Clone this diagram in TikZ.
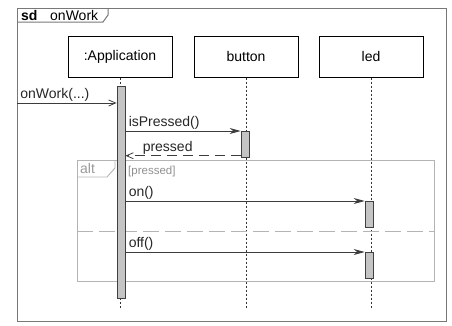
\documentclass[tikz,border=0pt]{standalone}
\usepackage{fontspec}
\setmainfont{Liberation Sans}
\usetikzlibrary{arrows.meta,positioning,calc}
\definecolor{framegray}{HTML}{787878}
\definecolor{altgray}{HTML}{B4B4B4}
\definecolor{barfill}{HTML}{C4C4C4}
\definecolor{msggray}{HTML}{3C3C3C}
\tikzset{
  sdframe/.style={draw=framegray,line width=1pt,rectangle,anchor=north west,inner sep=0pt},
  altframe/.style={draw=altgray,line width=0.9pt,rectangle,anchor=north west,inner sep=0pt},
  objbox/.style={draw,rectangle,line width=1pt,minimum width=104pt,minimum height=41pt,inner sep=0pt},
  actbar/.style={draw=black!75,fill=barfill,line width=0.7pt,minimum width=8pt,inner sep=0pt,anchor=north},
  lifeline/.style={black!80,line width=0.7pt,dash pattern=on 2pt off 2pt},
  syncmsg/.style={msggray,line width=0.8pt,-{Stealth[length=11pt,width=6pt]}},
  asyncmsg/.style={msggray,line width=0.8pt,-{Straight Barb[length=7pt,width=6pt]}},
  retmsg/.style={msggray,line width=0.8pt,dash pattern=on 10pt off 6pt,-{Straight Barb[length=7pt,width=6pt]}},
  altsep/.style={altgray,line width=0.9pt,dash pattern=on 16pt off 6pt},
  msglbl/.style={anchor=south west,inner xsep=3pt,inner ysep=1pt,text=black!85},
  guard/.style={text=altgray!80!black,font=\fontsize{11.5}{13}\selectfont}
}
\begin{document}
\begin{tikzpicture}[x=1pt,y=-1pt,every node/.style={font=\fontsize{14}{16}\selectfont}]
  \useasboundingbox (0,0) rectangle (452,325);
  % Outer sd frame
  \node[sdframe,minimum width=429pt,minimum height=313pt] (sd) at (17,8) {};
  \draw[framegray,line width=1pt] ($(sd.north west)+(0,14)$) -- ($(sd.north west)+(86,14)$)
    -- ($(sd.north west)+(91,7)$) -- ($(sd.north west)+(91,0)$);
  \node[anchor=west,inner sep=0pt] (sdkw) at (21,15) {\textbf{sd}};
  \node[anchor=west,inner sep=0pt] (sdname) at (50,15) {onWork};

  % Lifeline heads
  \node[objbox] (app) at (120,56.5) {:Application};
  \node[objbox,right=21pt of app] (btn) {button};
  \node[objbox,right=20pt of btn] (led) {led};

  % Lifelines
  \coordinate (lifeend) at (0,309);
  \foreach \o in {app,btn,led}
    \draw[lifeline] (\o.south) -- (\o.south |- lifeend);

  % alt fragment
  \node[altframe,minimum width=357pt,minimum height=121pt] (alt) at (77,160) {};
  \draw[altgray,line width=0.9pt] ($(alt.north west)+(0,17)$) -- ($(alt.north west)+(30,17)$)
    -- ($(alt.north west)+(38,8)$) -- ($(alt.north west)+(38,0)$);
  \node[anchor=west,inner sep=0pt,text=altgray!85!black] (altkw) at (80,168) {alt};
  \node[guard,anchor=west,inner sep=0pt] (grd) at (128,172) {[pressed]};
  \coordinate (sep) at (77,231);
  \draw[altsep] (sep) -- (sep -| alt.east);

  % Activation bars
  \node[actbar,minimum height=212pt] (appact) at (121,86) {};
  \node[actbar,minimum height=26pt] (btnact) at (245,131) {};
  \node[actbar,minimum height=26pt] (ledon) at (369,201) {};
  \node[actbar,minimum height=26pt] (ledoff) at (369,252) {};

  % Messages
  \coordinate (gate) at (17,103);
  \draw[asyncmsg] (gate) -- (appact.west |- gate) node[msglbl,pos=0] {onWork(...)};
  \draw[syncmsg] (appact.east |- btnact.north) -- (btnact.north west) node[msglbl,pos=0] {isPressed()};
  \draw[retmsg] ([yshift=2pt]btnact.south west) -- ([yshift=2pt]appact.east |- btnact.south)
    node[msglbl,pos=1,xshift=14pt] {pressed};
  \draw[syncmsg] (appact.east |- ledon.north) -- (ledon.north west) node[msglbl,pos=0] {on()};
  \draw[syncmsg] (appact.east |- ledoff.north) -- (ledoff.north west) node[msglbl,pos=0] {off()};
\end{tikzpicture}
\end{document}
